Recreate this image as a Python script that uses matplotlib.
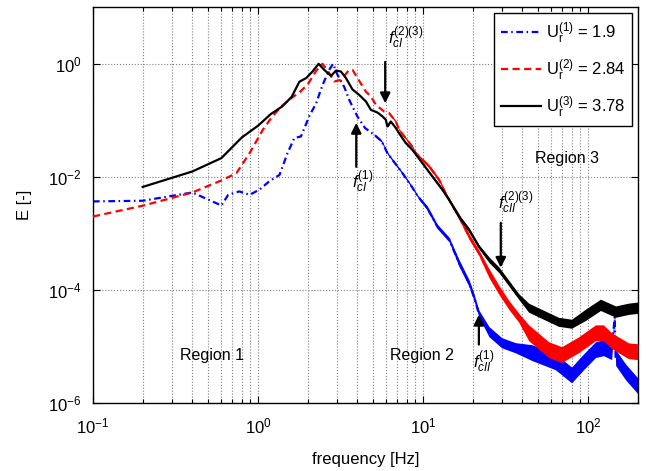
import numpy as np
import matplotlib
matplotlib.use('Agg')
import matplotlib.pyplot as plt
from matplotlib.ticker import LogLocator, NullLocator, FixedLocator, LogFormatterSciNotation

plt.rcParams['font.family'] = ['Liberation Sans', 'DejaVu Sans']
plt.rcParams['mathtext.fontset'] = 'custom'
plt.rcParams['mathtext.rm'] = 'Liberation Sans'
plt.rcParams['mathtext.it'] = 'Liberation Sans:italic'
plt.rcParams['mathtext.bf'] = 'Liberation Sans:bold'

# ---------------- data ----------------
# Ur(1) = 1.9  (blue, dash-dot)
f_blue = [0.1, 0.2, 0.4, 0.6, 0.66, 0.77, 0.89, 1.02, 1.17, 1.35,
          1.51, 1.66, 1.82, 2.05, 2.25, 2.46, 2.70, 2.85, 3.03, 3.33,
          3.57, 4.0, 4.45, 5.06, 5.6, 6.08, 6.52, 7.50, 8.6, 9.3,
          10.6, 12.2, 14.4, 16.5, 19.0, 20.3, 21.8, 25.1, 30.0, 36.3,
          45.7, 63.4, 79.5, 94, 111, 124, 139, 145, 147, 169, 200]
E_blue = [3.66e-3, 3.76e-3, 5.27e-3, 3.1e-3, 4.8e-3, 5.5e-3, 4.8e-3, 5.9e-3, 8.3e-3, 0.0108,
          0.0263, 0.0484, 0.0517, 0.12, 0.2, 0.42, 0.78, 1.0, 0.64, 0.39,
          0.23, 0.117, 0.073, 0.0554, 0.043, 0.0263, 0.020, 0.0116, 6.5e-3, 4.5e-3,
          2.8e-3, 1.32e-3, 7.7e-4, 3.0e-4, 1.31e-4, 7.6e-5, 3.8e-5, 1.81e-5, 1.15e-5, 9.4e-6,
          7.7e-6, 5.3e-6, 3.1e-6, 5.3e-6, 8.7e-6, 9.4e-6, 8.0e-6, 3.3e-5, 6.3e-6, 3.5e-6, 2.0e-6]
# half thickness of the noisy band (decades)
noise_blue = [0] * 23 + [0.02] * 7 + [0.04] * 3 + [0.06] * 4 + [0.09] * 3 + \
             [0.14, 0.14, 0.14, 0.14, 0.14, 0.14, 0.14, 0.05, 0.14, 0.14, 0.14]

# Ur(2) = 2.84  (red, dashed)
f_red = [0.1, 0.2, 0.4, 0.6, 0.74, 0.89, 1.07, 1.2, 1.38, 1.6,
         1.78, 2.0, 2.25, 2.46, 2.70, 2.90, 3.18, 3.57, 3.74, 4.01,
         4.30, 4.51, 4.83, 5.18, 5.81, 6.23, 6.84, 7.16, 8.62, 9.03,
         10.9, 12.5, 13.7, 14.4, 16.5, 19.0, 21.8, 25.1, 28.8, 33.1,
         38.0, 43.7, 57.7, 69.2, 87.6, 111, 124, 139, 176, 200]
E_red = [1.98e-3, 3.07e-3, 5.27e-3, 8.6e-3, 0.0116, 0.0263, 0.068, 0.109, 0.175, 0.25,
         0.31, 0.43, 0.75, 1.0, 0.685, 0.486, 0.52, 0.78, 0.78, 0.56,
         0.40, 0.32, 0.264, 0.188, 0.143, 0.134, 0.095, 0.068, 0.034, 0.0263,
         0.0152, 8.85e-3, 5.1e-3, 3.9e-3, 1.98e-3, 8.8e-4, 4.5e-4, 1.97e-4, 1.0e-4, 5.4e-5,
         3.2e-5, 1.73e-5, 8.7e-6, 7.1e-6, 1.06e-5, 1.73e-5, 1.73e-5, 1.25e-5, 8.3e-6, 8.0e-6]
noise_red = [0] * 25 + [0.02] * 5 + [0.03] * 4 + [0.05] * 3 + [0.08] * 4 + [0.14] * 9

# Ur(3) = 3.78  (black, solid)
f_black = [0.2, 0.4, 0.6, 0.8, 1.0, 1.2, 1.4, 1.6, 1.78, 1.96,
           2.14, 2.33, 2.52, 2.77, 2.97, 3.18, 3.41, 3.74, 4.11, 4.51,
           4.83, 5.30, 5.68, 5.95, 6.08, 6.38, 6.84, 7.16, 7.86, 8.62,
           9.90, 11.4, 13.1, 14.4, 16.5, 19.0, 21.8, 25.1, 28.8, 33.1,
           38.0, 43.7, 53.8, 66.3, 79.5, 96.6, 119, 147, 176, 200]
E_black = [6.6e-3, 0.0124, 0.0214, 0.050, 0.080, 0.13, 0.175, 0.26, 0.48, 0.56,
           0.73, 1.0, 0.78, 0.61, 0.76, 0.73, 0.56, 0.35, 0.28, 0.215,
           0.153, 0.137, 0.117, 0.102, 0.078, 0.095, 0.073, 0.059, 0.0395, 0.030,
           0.0175, 0.0101, 5.9e-3, 3.9e-3, 1.98e-3, 1.15e-3, 5.8e-4, 3.4e-4, 2.26e-4, 1.31e-4,
           7.6e-5, 4.8e-5, 3.6e-5, 2.7e-5, 2.5e-5, 3.6e-5, 5.4e-5, 4.1e-5, 4.6e-5, 4.8e-5]
noise_black = [0] * 24 + [0.015] * 7 + [0.025] * 3 + [0.035] * 3 + [0.05] * 4 + [0.08] * 4 + [0.1] * 5

labels = [r'$\mathrm{U}_\mathrm{r}^{(1)}$ = 1.9',
          r'$\mathrm{U}_\mathrm{r}^{(2)}$ = 2.84',
          r'$\mathrm{U}_\mathrm{r}^{(3)}$ = 3.78']

# characteristic frequencies marked with arrows
f_cI_1 = 3.94
f_cI_23 = 5.9
f_cII_1 = 21.8
f_cII_23 = 29.6

# ---------------- figure ----------------
fig = plt.figure(figsize=(6.48, 4.71), dpi=100)
ax = fig.add_axes([93 / 648, 1 - 402.7 / 471, (637.7 - 93) / 648, (402.7 - 7.3) / 471])
ax.set_xscale('log')
ax.set_yscale('log')


def draw(f, E, noise, color, ls, label, z):
    f = np.asarray(f, float)
    E = np.asarray(E, float)
    s = np.asarray(noise, float)
    ax.fill_between(f, E / 10 ** s, E * 10 ** s, where=s > 0, color=color,
                    lw=0, zorder=z)
    ax.plot(f, E, color=color, ls=ls, lw=1.6, label=label, zorder=z + 0.5)


draw(f_blue, E_blue, noise_blue, (0, 0, 1), (0, (3, 1.6, 0.7, 1.6)), labels[0], 2)
draw(f_red, E_red, noise_red, (1, 0, 0), (0, (3.2, 2.0)), labels[1], 3)
draw(f_black, E_black, noise_black, 'k', '-', labels[2], 4)

ax.set_xlim(0.1, 200)
ax.set_ylim(1e-6, 10)

ax.xaxis.set_major_locator(LogLocator(base=10, numticks=10))
ax.xaxis.set_minor_locator(LogLocator(base=10, subs=np.arange(2, 10), numticks=20))
ax.yaxis.set_major_locator(FixedLocator([1e-6, 1e-4, 1e-2, 1]))
ax.yaxis.set_minor_locator(NullLocator())
ax.yaxis.set_major_formatter(LogFormatterSciNotation())

ax.tick_params(which='both', direction='in', top=True, right=True, width=0.8)
ax.tick_params(which='major', length=5, labelsize=12)
ax.tick_params(axis='x', which='major', pad=10)
ax.tick_params(axis='y', which='major', pad=8)
ax.tick_params(which='minor', length=3)
ax.grid(True, which='major', ls=':', color='0.5', lw=0.8)
ax.grid(True, which='minor', axis='x', ls=':', color='0.5', lw=0.8)
for sp in ax.spines.values():
    sp.set_linewidth(1.0)

ax.set_xlabel('frequency [Hz]', fontsize=12, labelpad=11)
ax.set_ylabel('E [-]', fontsize=12, labelpad=12)

leg = ax.legend(loc='upper right', fontsize=12, frameon=True, fancybox=False,
                edgecolor='k', framealpha=1, handlelength=2.4, handletextpad=0.3,
                labelspacing=0.75, borderaxespad=0.35, borderpad=0.4)
leg.get_frame().set_linewidth(1.0)
leg.set_zorder(10)

arrow = dict(arrowstyle='-|>', color='k', lw=1.6, mutation_scale=15,
             shrinkA=0, shrinkB=0)
ax.annotate('', xy=(f_cI_1, 0.09), xytext=(f_cI_1, 0.015), arrowprops=arrow, zorder=6)
ax.annotate('', xy=(f_cI_23, 0.2), xytext=(f_cI_23, 1.08), arrowprops=arrow, zorder=6)
ax.annotate('', xy=(f_cII_1, 3.6e-5), xytext=(f_cII_1, 1.07e-5), arrowprops=arrow, zorder=6)
ax.annotate('', xy=(f_cII_23, 2.45e-4), xytext=(f_cII_23, 1.53e-3), arrowprops=arrow, zorder=6)

ax.text(3.72, 8.2e-3, r'$f_{cI}^{\mathit{(1)}}$', ha='left', va='center', fontsize=12)
ax.text(6.1, 2.9, r'$f_{cI}^{\mathit{(2)(3)}}$', ha='left', va='center', fontsize=12)
ax.text(20.0, 5.3e-6, r'$f_{cII}^{\mathit{(1)}}$', ha='left', va='center', fontsize=12)
ax.text(28.4, 3.47e-3, r'$f_{cII}^{\mathit{(2)(3)}}$', ha='left', va='center', fontsize=12)

ax.text(0.524, 6.8e-6, 'Region 1', ha='center', va='center', fontsize=11.5)
ax.text(9.8, 6.8e-6, 'Region 2', ha='center', va='center', fontsize=11.5)
ax.text(75, 0.0214, 'Region 3', ha='center', va='center', fontsize=11.5)

fig.savefig('out.png', dpi=100)
